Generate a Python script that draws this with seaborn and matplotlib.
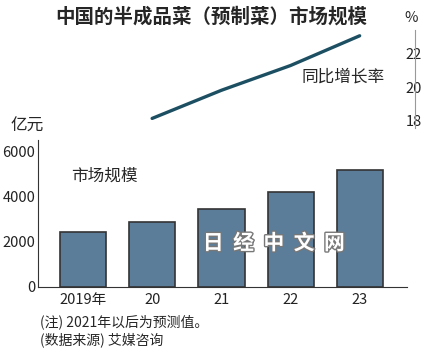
import matplotlib
matplotlib.use("Agg")
import matplotlib.pyplot as plt
import matplotlib.patheffects as pe
import seaborn as sns

# ------------------ DATOS ------------------
years = ["2019年", "20", "21", "22", "23"]
market_size = [2440, 2880, 3460, 4200, 5180]      # 亿元
growth_x = [1, 2, 3, 4]                            # 2020-2023
growth_rate = [18.1, 19.8, 21.3, 23.1]             # %

bar_color = "#5b7d99"
line_color = "#1d4f63"

sns.set_style("white")
plt.rcParams["font.family"] = ["Noto Sans CJK SC", "DejaVu Sans"]
tick_font = ["Liberation Sans Narrow", "Noto Sans CJK SC", "DejaVu Sans"]

fig = plt.figure(figsize=(4.3, 3.54), dpi=100)

# ------------------ BARRAS ------------------
ax = fig.add_axes([38 / 430, 1 - 287 / 354, (407 - 38) / 430, (287 - 140) / 354])
sns.barplot(x=years, y=market_size, ax=ax, color=bar_color, saturation=1,
            width=0.67, edgecolor="#333333", linewidth=1.2)
ax.set_xlim(-0.65, 4.68)
ax.set_ylim(0, 6500)
ax.set_yticks([0, 2000, 4000, 6000])
for s in ["top", "right"]:
    ax.spines[s].set_visible(False)
ax.spines["left"].set_color("#333333")
ax.spines["bottom"].set_color("#333333")
ax.tick_params(axis="y", direction="in", length=3, pad=2, colors="#222222", labelsize=10.5)
ax.tick_params(axis="x", length=0, pad=4, colors="#222222", labelsize=10.5)
for lab in ax.get_xticklabels() + ax.get_yticklabels():
    lab.set_family(tick_font)
ax.set_xlabel("")
ax.set_ylabel("")
ax.text(0.09, 0.72, "市场规模", transform=ax.transAxes, fontsize=12)

# ------------------ LÍNEA ------------------
ax2 = fig.add_axes([38 / 430, 1 - 128 / 354, (415 - 38) / 430, (128 - 30) / 354])
sns.lineplot(x=growth_x, y=growth_rate, ax=ax2, color=line_color, linewidth=2.4)
ax2.set_xlim(-0.65, 4.80)
ax2.set_ylim(17.52, 23.45)
ax2.set_yticks([18, 20, 22])
ax2.patch.set_alpha(0)
for s in ["top", "left", "bottom"]:
    ax2.spines[s].set_visible(False)
ax2.spines["right"].set_color("#999999")
ax2.yaxis.tick_right()
ax2.set_xticks([])
ax2.tick_params(axis="y", direction="in", length=3, pad=-1, colors="#222222", labelsize=10.5)
for lab in ax2.get_yticklabels():
    lab.set_family(tick_font)
    lab.set_horizontalalignment("center")
    lab.set_bbox(dict(facecolor="white", edgecolor="none", pad=0.5))
ax2.text(0.70, 0.47, "同比增长率", transform=ax2.transAxes, fontsize=12)

# ------------------ TEXTOS ------------------
fig.text(211 / 430, 1 - 17 / 354, "中国的半成品菜（预制菜）市场规模",
         ha="center", va="center", fontsize=14, fontweight="bold")
fig.text(411 / 430, 1 - 18 / 354, "%", ha="center", va="center",
         fontsize=10.5, family=tick_font)
fig.text(10 / 430, 1 - 126 / 354, "亿元", ha="left", va="center", fontsize=12)
fig.text(40 / 430, 1 - 322 / 354, "(注) 2021年以后为预测值。", ha="left",
         va="center", fontsize=10)
fig.text(40 / 430, 1 - 340 / 354, "(数据来源) 艾媒咨询", ha="left",
         va="center", fontsize=10)
fig.text(274 / 430, 1 - 243 / 354, "日  经  中  文  网", ha="center", va="center",
         fontsize=15, fontweight="bold", color="white",
         path_effects=[pe.withStroke(linewidth=2, foreground="#777777")])

plt.savefig("out.png", dpi=100)
plt.close()
